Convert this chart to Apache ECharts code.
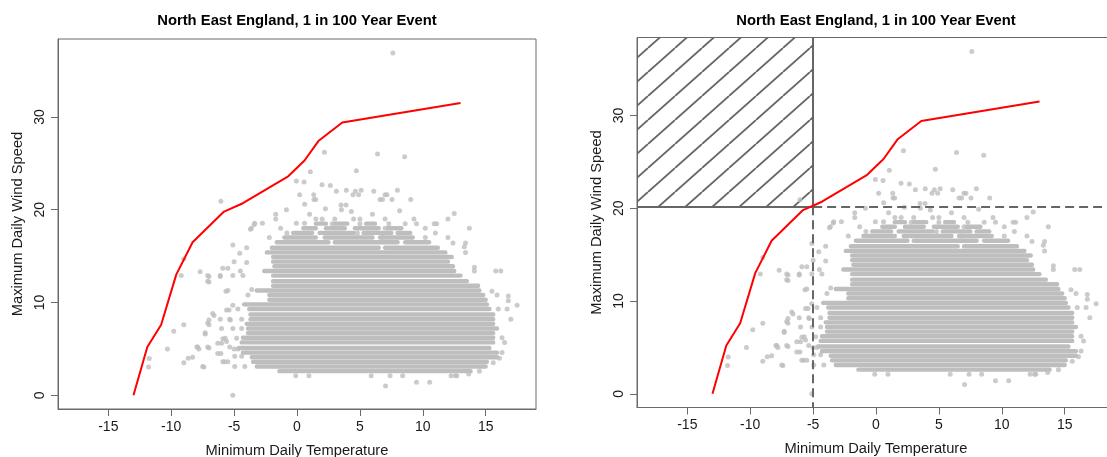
<!DOCTYPE html>
<html><head><meta charset="utf-8">
<script src="https://cdn.jsdelivr.net/npm/echarts@6/dist/echarts.min.js"></script>
<style>html,body{margin:0;padding:0;background:#fff}#c{width:1107px;height:457px}</style>
</head><body><div id="c"></div>
<script>
// ---------- data ----------
const TITLE = 'North East England, 1 in 100 Year Event';
const X_NAME = 'Minimum Daily Temperature';
const Y_NAME = 'Maximum Daily Wind Speed';
const X_TICKS = [-15, -10, -5, 0, 5, 10, 15];
const Y_TICKS = [0, 10, 20, 30];
const X_RANGE = [-19, 19];
const Y_RANGE = [-1.48, 38.4];

// red 1-in-100-year curve
const curveX = [-13.0, -11.9, -10.8, -9.6, -8.3, -5.8, -4.3, -0.7, 0.6, 1.7, 3.6, 13.0];
const curveY = [0.0, 5.2, 7.6, 13.0, 16.5, 19.8, 20.7, 23.6, 25.3, 27.4, 29.4, 31.5];

// dense core of the observations: runs of touching points along each wind level
const cloudRowY      = [2.6, 3.1, 3.6, 4.1, 4.6, 5.1, 5.7, 6.2, 6.7, 7.2, 7.7, 8.2, 8.7, 9.3, 9.8, 10.3, 10.8, 11.3, 11.8, 12.3, 12.9, 13.4, 13.9, 14.4, 14.9, 15.4, 15.9, 15.9,
                        16.5, 16.5, 16.5, 17.0, 17.0, 17.0, 17.5, 17.5, 17.5, 17.5, 18.0, 18.0, 18.0, 18.0, 18.5, 18.5, 18.5];
const cloudRowXStart = [-1.4, -3.2, -3.5, -3.6, -4.3, -4.6, -4.4, -4.3, -3.9, -3.9, -4.0, -3.7, -3.7, -3.8, -4.2, -2.2, -2.2, -3.2, -1.9, -1.9, -1.9, -2.6, -1.8, -1.9, -1.9, -2.4, -2.0, 7.0,
                        -1.6, 3.0, 8.6, -1.0, 2.2, 6.6, -0.3, 1.8, 5.3, 8.0, 0.5, 2.3, 4.6, 7.2, 1.5, 3.0, 5.5];
const cloudRowXEnd   = [13.8, 15.0, 15.1, 15.9, 15.9, 15.3, 15.6, 15.6, 15.6, 15.9, 15.6, 15.6, 15.6, 15.3, 15.1, 15.0, 14.8, 14.5, 14.4, 13.5, 13.0, 12.5, 12.4, 12.0, 12.3, 11.8, 6.5, 11.2,
                        2.5, 8.0, 10.5, 1.5, 6.0, 9.2, 1.2, 4.5, 7.5, 9.0, 1.5, 3.8, 6.5, 8.3, 2.3, 4.0, 6.2];

// scattered observations outside the dense core
const sparsePoints = [
  [-11.75,3.95],[-11.8,3.05],[-10.3,5.0],[-9.8,6.9],[-9.0,7.6],[-9.0,3.5],[-8.65,4.0],[-8.3,4.1],
  [-9.2,12.9],[-9.0,14.7],[-7.7,13.3],[-7.95,5.2],[-7.8,5.0],[-7.4,3.05],[-7.3,6.6],[-7.0,12.8],
  [-7.0,12.2],[-7.0,8.1],[-7.0,7.6],[-7.0,5.1],[-6.6,8.6],[-6.3,4.5],[-6.05,4.5],[-6.1,12.8],
  [-5.9,13.7],[-5.5,13.7],[-6.3,5.6],[-6.0,5.6],[-5.9,6.1],[-5.9,3.6],[-5.5,3.6],[-5.65,11.2],
  [-5.6,9.2],[-5.3,8.1],[-5.4,9.2],[-6.05,20.9],[-5.1,0.0],[-5.0,5.0],[-4.7,5.0],[-4.95,4.2],
  [-4.4,4.2],[-5.1,16.2],[-4.55,15.3],[-4.0,15.9],[-4.0,14.3],[-5.0,14.4],[-4.5,13.4],[-3.7,17.9],
  [-3.4,18.4],[-3.6,11.4],[-3.9,10.8],[-5.1,9.7],[-4.7,9.3],[-6.7,8.8],[-6.1,8.2],[-5.35,8.2],
  [-4.4,8.2],[-6.0,7.2],[-5.1,7.2],[-4.4,7.2],[-5.7,6.15],[-4.8,6.15],[-5.6,5.8],[-7.9,5.2],
  [-7.1,5.2],[-5.35,5.2],[-5.75,3.6],[-7.5,3.1],[-4.95,3.1],[-4.15,3.1],[-7.1,12.9],[-6.1,12.9],
  [-5.1,12.9],[-4.3,12.9],[-7.1,12.3],[-5.5,11.3],[-7.3,6.75],[-7.1,7.8],
  [-3.36,18.55],[-2.75,18.55],[-3.63,18.0],[-1.69,19.5],[-1.69,19.0],[-0.84,20.0],[-0.05,23.1],
  [0.56,23.0],[1.06,24.1],[2.18,26.2],[0.21,21.6],[1.33,21.6],[0.61,20.6],[1.35,21.1],[1.49,21.1],
  [1.99,22.7],[2.65,22.6],[3.13,22.0],[3.92,22.1],[4.64,22.0],[4.72,24.2],[2.26,20.1],[3.53,20.0],
  [4.32,19.8],[-0.05,18.55],[0.6,18.55],[6.4,26.0],[8.56,25.7],[4.45,21.6],[4.9,21.6],[5.1,22.1],
  [6.1,22.0],[6.6,21.1],[6.8,21.1],[7.0,21.6],[7.15,21.6],[7.55,21.1],[7.98,22.1],[9.04,21.1],
  [3.5,20.5],[3.9,20.5],[8.16,19.9],[10.9,18.5],[12.0,19.0],[12.5,19.6],[13.7,18.0],[7.62,36.9],
  [11.0,17.5],[11.1,18.5],[1.5,19.0],[2.0,19.0],[3.0,19.0],[4.5,19.0],[5.0,19.0],[6.0,19.5],
  [7.0,19.0],[9.3,19.0],[9.5,18.5],[10.2,18.0],[7.0,18.0],[8.6,18.5],[6.8,17.0],[10.2,17.0],
  [-2.2,17.0],[-1.3,18.0],[-0.8,17.5],[4.8,17.5],[2.8,18.5],[5.0,18.5],[7.3,18.5],[1.0,19.5],
  [15.8,13.4],[16.2,13.4],[14.1,13.4],[14.1,13.8],[13.4,15.4],[13.4,16.4],[16.8,10.2],[16.8,10.7],
  [15.9,10.8],[15.5,11.2],[17.5,9.7],[16.7,9.3],[17.0,8.2],[16.0,9.3],[16.5,5.7],[16.1,4.0],
  [15.6,3.5],[13.65,2.3],[12.6,2.1],[12.25,2.1],[10.55,1.4],[9.5,1.4],[7.04,1.0],[-0.1,2.1],
  [0.95,2.1],[5.9,2.1],[7.4,2.1],[8.4,2.1],[12.7,2.1],[14.5,2.6],[16.3,4.6],[16.3,6.2],
  [13.3,16.0],[12.0,17.0],[12.4,16.4]
];

// threshold used for the shaded "joint exceedance" box in the right panel
const thresholdX = -5;
const thresholdY = 20.2;

// ---------- chart ----------
const FONT = "'Liberation Sans', Arial, sans-serif";
const AXIS_GREY = '#6a6a6a';
const POINT_GREY = '#bebebe';
const TEXT = '#1a1a1a';

function hatchTile() {
  const w = 27, h = 24;
  const c = document.createElement('canvas');
  c.width = w; c.height = h;
  const g = c.getContext('2d');
  g.strokeStyle = '#666666';
  g.lineWidth = 1.8;
  [[0, h, w, 0], [-w, h, 0, 0], [w, h, 2 * w, 0]].forEach(function (s) {
    g.beginPath(); g.moveTo(s[0], s[1]); g.lineTo(s[2], s[3]); g.stroke();
  });
  return c;
}

const curveData = curveX.map((x, i) => [x, curveY[i]]);
const cloudData = cloudRowY.map((y, i) => [cloudRowXStart[i], y, cloudRowXEnd[i]]);

const grids = [
  { left: 58, top: 39, width: 478, height: 370 },
  { left: 637, top: 37.5, width: 478, height: 370 }
];

function xAxisFor(i) {
  return {
    type: 'value', gridIndex: i, min: X_RANGE[0], max: X_RANGE[1],
    name: X_NAME, nameLocation: 'middle', nameGap: 34,
    nameTextStyle: { fontFamily: FONT, fontSize: 14.7, color: TEXT },
    axisLine: { show: true, onZero: false, lineStyle: { color: AXIS_GREY, width: 1 } },
    splitLine: { show: false },
    axisTick: { show: true, length: 7, lineStyle: { color: AXIS_GREY }, customValues: X_TICKS },
    axisLabel: { customValues: X_TICKS, margin: 11, fontFamily: FONT, fontSize: 14, color: TEXT }
  };
}
function yAxisFor(i) {
  return {
    type: 'value', gridIndex: i, min: Y_RANGE[0], max: Y_RANGE[1],
    name: Y_NAME, nameLocation: 'middle', nameGap: 33,
    nameTextStyle: { fontFamily: FONT, fontSize: 14.7, color: TEXT },
    axisLine: { show: true, onZero: false, lineStyle: { color: AXIS_GREY, width: 1 } },
    splitLine: { show: false },
    axisTick: { show: true, length: 7, lineStyle: { color: AXIS_GREY }, customValues: Y_TICKS },
    axisLabel: { customValues: Y_TICKS, rotate: 90, margin: 11, fontFamily: FONT, fontSize: 14, color: TEXT }
  };
}

function seriesFor(i) {
  const list = [
    {
      type: 'custom', xAxisIndex: i, yAxisIndex: i, data: cloudData, clip: true, silent: true, z: 1,
      encode: { x: [0, 2], y: 1 },
      renderItem: function (params, api) {
        const p0 = api.coord([api.value(0), api.value(1)]);
        const p1 = api.coord([api.value(2), api.value(1)]);
        const h = 4.4;
        return {
          type: 'rect',
          shape: { x: p0[0] - h / 2, y: p0[1] - h / 2, width: p1[0] - p0[0] + h, height: h, r: h / 2 },
          style: { fill: POINT_GREY }
        };
      }
    },
    {
      type: 'scatter', xAxisIndex: i, yAxisIndex: i, data: sparsePoints, symbol: 'circle', symbolSize: 5,
      itemStyle: { color: POINT_GREY }, silent: true, z: 2
    },
    {
      type: 'line', xAxisIndex: i, yAxisIndex: i, data: curveData, showSymbol: false, symbol: 'none',
      lineStyle: { color: '#ff0000', width: 2 }, silent: true, z: 5
    }
  ];
  if (i === 1) {
    list.push({
      type: 'line', xAxisIndex: i, yAxisIndex: i, data: [], silent: true, z: 4,
      markArea: {
        silent: true, label: { show: false },
        itemStyle: { color: { image: hatchTile(), repeat: 'repeat' }, borderWidth: 0 },
        data: [[{ coord: [X_RANGE[0], thresholdY] }, { coord: [thresholdX, Y_RANGE[1]] }]]
      },
      markLine: {
        silent: true, symbol: 'none', label: { show: false }, animation: false,
        lineStyle: { color: '#666666', width: 2, type: 'solid' },
        data: [
          [{ coord: [thresholdX, thresholdY] }, { coord: [thresholdX, Y_RANGE[1]] }],
          [{ coord: [X_RANGE[0], thresholdY] }, { coord: [thresholdX, thresholdY] }],
          [{ coord: [thresholdX, thresholdY], lineStyle: { type: [9, 5] } }, { coord: [thresholdX, Y_RANGE[0]] }],
          [{ coord: [thresholdX, thresholdY], lineStyle: { type: [9, 5] } }, { coord: [X_RANGE[1], thresholdY] }]
        ]
      }
    });
  }
  return list;
}

const chart = echarts.init(document.getElementById('c'), null, { renderer: 'canvas' });
chart.setOption({
  animation: false,
  backgroundColor: '#ffffff',
  title: [0, 1].map(i => ({
    text: TITLE, left: grids[i].left + grids[i].width / 2 - 5, top: 8, textAlign: 'center',
    textStyle: { fontFamily: FONT, fontSize: 14.8, fontWeight: 'bold', color: '#000' }
  })),
  grid: grids.map(g => Object.assign({ show: true, borderColor: AXIS_GREY, borderWidth: 1, backgroundColor: 'transparent', containLabel: false, outerBoundsMode: 'none' }, g)),
  xAxis: [xAxisFor(0), xAxisFor(1)],
  yAxis: [yAxisFor(0), yAxisFor(1)],
  series: seriesFor(0).concat(seriesFor(1))
});
</script>
</body></html>
